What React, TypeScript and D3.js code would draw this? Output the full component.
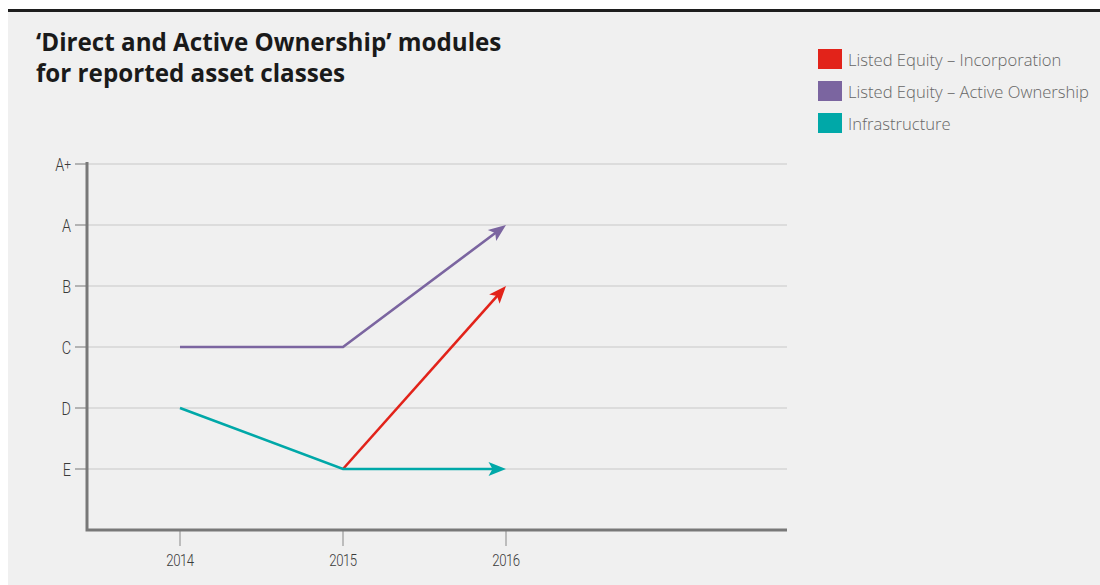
import React from "react";
import * as d3 from "d3";

const years = [2014, 2015, 2016];
const gradeLabels = ["A+", "A", "B", "C", "D", "E"];
const gradeLevels = ["A+", "A", "B", "C", "D", "E", ""];

const seriesNames = [
  "Listed Equity – Incorporation",
  "Listed Equity – Active Ownership",
  "Infrastructure",
];
const seriesColors = ["#e2231a", "#7b65a0", "#00a8a8"];
const incorporation: (string | null)[] = [null, "E", "B"];
const activeOwnership: (string | null)[] = ["C", "C", "A"];
const infrastructure: (string | null)[] = ["D", "E", "E"];
const seriesValues = [incorporation, activeOwnership, infrastructure];

const W = 1100;
const H = 585;

const labelFont = "Roboto, sans-serif";
const squeeze = 0.8;

export default function App() {
  const x = d3.scaleLinear().domain([2014, 2016]).range([180, 506]);
  const y = d3.scalePoint<string>().domain(gradeLevels).range([164, 530]);
  const axisLeft = 87;
  const axisRight = 787;
  const axisBottom = y("")!;
  const axisTop = 162;

  const line = d3
    .line<[number, number]>()
    .x((d) => d[0])
    .y((d) => d[1]);

  const drawOrder = [1, 0, 2];

  return (
    <svg
      width={W}
      height={H}
      style={{ position: "absolute", left: 0, top: 0, display: "block" }}
    >
      <rect x={0} y={0} width={W} height={H} fill="#ffffff" />
      <rect x={8} y={12} width={W - 8} height={H - 12} fill="#f0f0f0" />
      <rect x={8} y={9} width={W - 8} height={3} fill="#1e1e1e" />

      <g fontFamily="'Open Sans', sans-serif" fontWeight={700} fontSize={24.2} fill="#1a1a1a">
        <text x={36} y={51}>‘Direct and Active Ownership’ modules</text>
        <text x={36} y={82}>for reported asset classes</text>
      </g>

      {/* legend */}
      <g fontFamily="'Open Sans', sans-serif" fontWeight={300} fontSize={16.6} fill="#666">
        {seriesNames.map((name, i) => {
          const top = [49, 81, 113][i];
          return (
            <g key={name}>
              <rect x={818} y={top} width={24} height={20} fill={seriesColors[i]} />
              <text x={848} y={top + 16.5}>{name}</text>
            </g>
          );
        })}
      </g>

      {/* gridlines */}
      {gradeLabels.map((g) => (
        <line
          key={g}
          x1={axisLeft}
          x2={axisRight}
          y1={y(g)}
          y2={y(g)}
          stroke="#c8c8c8"
          strokeWidth={1}
        />
      ))}

      {/* y ticks + labels */}
      <g fontFamily={labelFont} fontWeight={300} fontSize={18} fill="#3a3a3a">
        {gradeLabels.map((g) => (
          <g key={g}>
            <line x1={75} x2={axisLeft} y1={y(g)} y2={y(g)} stroke="#777" strokeWidth={1} />
            <text
              transform={`translate(71,${y(g)! + 6.5}) scale(${squeeze},1)`}
              textAnchor="end"
            >
              {g === "A+" ? (
                <>
                  A<tspan fontSize={15} dy={-2}>+</tspan>
                </>
              ) : (
                g
              )}
            </text>
          </g>
        ))}
      </g>

      {/* x ticks + labels */}
      <g fontFamily={labelFont} fontWeight={300} fontSize={16.5} fill="#3a3a3a">
        {years.map((yr) => (
          <g key={yr}>
            <line x1={x(yr)} x2={x(yr)} y1={axisBottom} y2={546} stroke="#888" strokeWidth={1} />
            <text
              transform={`translate(${x(yr)},566) scale(${squeeze},1)`}
              textAnchor="middle"
              letterSpacing={-0.6}
            >
              {yr}
            </text>
          </g>
        ))}
      </g>

      {/* axes */}
      <path
        d={`M${axisLeft},${axisTop}V${axisBottom}H${axisRight}`}
        fill="none"
        stroke="#787878"
        strokeWidth={3}
      />

      {/* series */}
      {drawOrder.map((i) => {
        const pts: [number, number][] = [];
        seriesValues[i].forEach((v, j) => {
          if (v !== null) pts.push([x(years[j]), y(v)!]);
        });
        const n = pts.length;
        const tip = pts[n - 1];
        const prev = pts[n - 2];
        const ang = Math.atan2(tip[1] - prev[1], tip[0] - prev[0]);
        const L = 17.5;
        const hw = 7;
        const notch = 4;
        const cos = Math.cos(ang);
        const sin = Math.sin(ang);
        const toWorld = (a: number, b: number): [number, number] => [
          tip[0] + a * cos - b * sin,
          tip[1] + a * sin + b * cos,
        ];
        const head = [
          toWorld(0, 0),
          toWorld(-L, -hw),
          toWorld(-L + notch, 0),
          toWorld(-L, hw),
        ];
        const shaftPts = pts.slice(0, n - 1).concat([toWorld(-L + notch + 1, 0)]);
        return (
          <g key={i}>
            <path
              d={line(shaftPts)!}
              fill="none"
              stroke={seriesColors[i]}
              strokeWidth={2.6}
              strokeLinejoin="miter"
            />
            <polygon
              points={head.map((p) => p.join(",")).join(" ")}
              fill={seriesColors[i]}
            />
          </g>
        );
      })}
    </svg>
  );
}
